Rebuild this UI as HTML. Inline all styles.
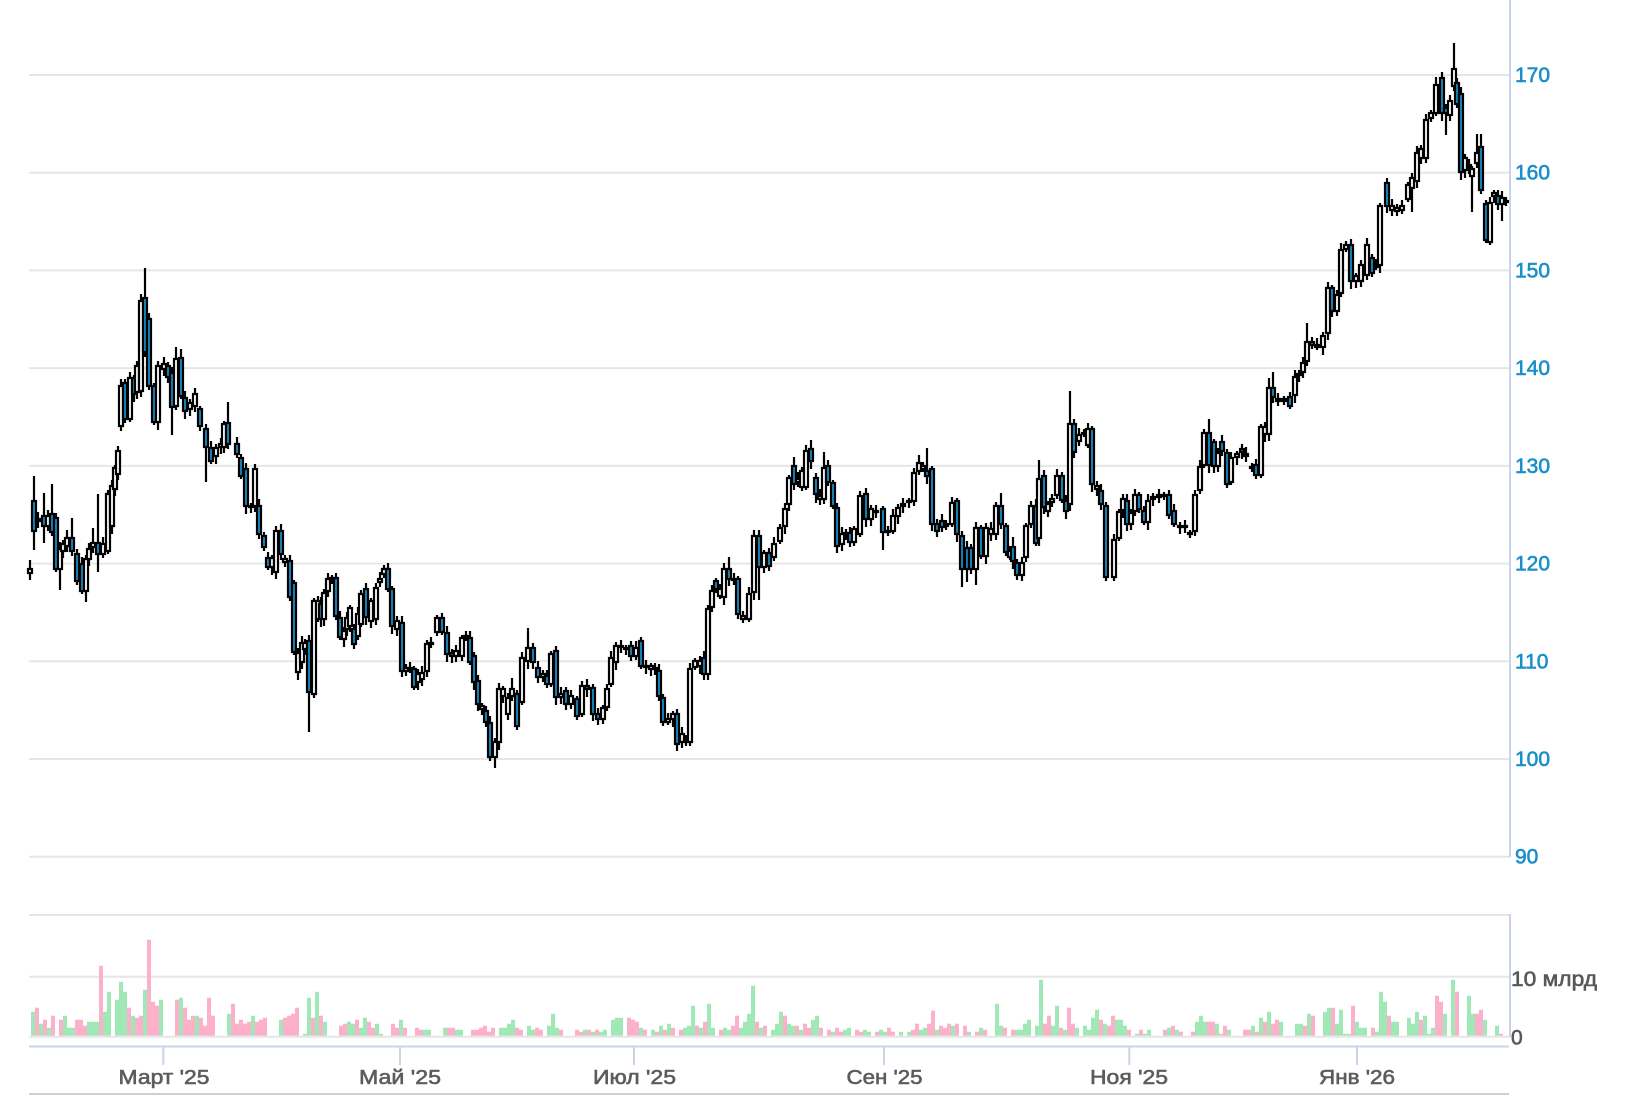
<!DOCTYPE html>
<html><head><meta charset="utf-8">
<style>
html,body{margin:0;padding:0;background:#fff;}
svg{display:block;}
text{font-family:"Liberation Sans",Arial,sans-serif;}
</style></head>
<body>
<svg id="c" width="1628" height="1095" viewBox="0 0 1628 1095" xmlns="http://www.w3.org/2000/svg">
<rect x="0" y="0" width="1628" height="1095" fill="#fff"/>
<g stroke="#e6e6e6" stroke-width="2">
<line x1="29" y1="75" x2="1509" y2="75"/>
<line x1="29" y1="172.7" x2="1509" y2="172.7"/>
<line x1="29" y1="270.4" x2="1509" y2="270.4"/>
<line x1="29" y1="368.1" x2="1509" y2="368.1"/>
<line x1="29" y1="465.9" x2="1509" y2="465.9"/>
<line x1="29" y1="563.6" x2="1509" y2="563.6"/>
<line x1="29" y1="661.3" x2="1509" y2="661.3"/>
<line x1="29" y1="759" x2="1509" y2="759"/>
<line x1="29" y1="856.7" x2="1509" y2="856.7"/>
<line x1="29" y1="915" x2="1509" y2="915"/>
<line x1="29" y1="976.7" x2="1509" y2="976.7"/>
</g>
<g id="vol"></g>
<line x1="29" y1="1036.8" x2="1509" y2="1036.8" stroke="#e6e6e6" stroke-width="2"/>
<g id="cand"></g>
<g stroke="#c9d4e8" stroke-width="2">
<line x1="1510" y1="0" x2="1510" y2="857"/>
<line x1="1510" y1="914" x2="1510" y2="1037"/>
<line x1="29" y1="1046.5" x2="1509" y2="1046.5"/>
<line x1="163.3" y1="1046" x2="163.3" y2="1065"/>
<line x1="400" y1="1046" x2="400" y2="1065"/>
<line x1="634" y1="1046" x2="634" y2="1065"/>
<line x1="884" y1="1046" x2="884" y2="1065"/>
<line x1="1129.3" y1="1046" x2="1129.3" y2="1065"/>
<line x1="1357" y1="1046" x2="1357" y2="1065"/>
</g>
<line x1="29" y1="1094" x2="1509" y2="1094" stroke="#cfcfcf" stroke-width="2"/>
<g fill="#1a8fc8" stroke="#1a8fc8" stroke-width="0.6" font-size="21">
<text x="1515" y="82">170</text>
<text x="1515" y="179.7">160</text>
<text x="1515" y="277.4">150</text>
<text x="1515" y="375.1">140</text>
<text x="1515" y="472.9">130</text>
<text x="1515" y="570.6">120</text>
<text x="1515" y="668.3">110</text>
<text x="1515" y="766">100</text>
<text x="1515" y="863.7">90</text>
</g>
<g fill="#585858" stroke="#585858" stroke-width="0.6" font-size="21">
<text x="1511" y="986" textLength="86" lengthAdjust="spacingAndGlyphs">10 млрд</text>
<text x="1511" y="1044.5">0</text>
</g>
<g fill="#5c5c5c" stroke="#5c5c5c" stroke-width="0.6" font-size="20" text-anchor="middle">
<text x="164" y="1084" textLength="91" lengthAdjust="spacingAndGlyphs">Март '25</text>
<text x="400" y="1084" textLength="82" lengthAdjust="spacingAndGlyphs">Май '25</text>
<text x="634.5" y="1084" textLength="83" lengthAdjust="spacingAndGlyphs">Июл '25</text>
<text x="884.5" y="1084" textLength="76" lengthAdjust="spacingAndGlyphs">Сен '25</text>
<text x="1129" y="1084" textLength="78" lengthAdjust="spacingAndGlyphs">Ноя '25</text>
<text x="1357" y="1084" textLength="76" lengthAdjust="spacingAndGlyphs">Янв '26</text>
</g>
</svg>
<script>
var C=[
[30,568,574,0,560,580],[34,500,532,1,476,550],[38,518,522,0],[44,515,527,1,493,543],[48,515,527,0],[52,513,533,1,484],[56,517,570,1],[60,548,570,0,0,590],[63,543,552,0],[67,537,547,0,530],[72,537,552,1,518],[77,553,582,1],[82,563,592,1],[86,558,592,0,0,602],[89,548,560,0],[93,542,548,0,528],[98,542,555,1,494,572],[103,543,555,0],[108,493,552,0],[112,485,527,0],[115,467,490,0],[118,450,475,0],[121,385,427,0],[125,382,420,1],[130,377,420,0],[134,377,395,1],[137,365,393,0],[141,300,392,0],[145,297,353,1,268],[149,318,387,1],[154,385,423,1],[158,365,423,0],[164,363,370,0],[168,365,378,1],[172,372,408,1,0,435],[176,358,407,0,347],[181,357,397,1,349],[185,397,412,1],[190,402,410,0],[195,393,407,0],[200,408,427,1],[206,428,448,1,0,482],[211,447,462,1],[216,447,457,0],[221,443,448,0],[224,423,448,0],[228,422,445,1,402],[237,443,455,1],[241,457,477,1],[246,468,507,1],[251,505,507,0],[255,468,507,0],[259,505,535,1],[264,535,548,1],[268,557,568,1],[272,557,568,0],[276,530,573,0],[281,530,555,1],[285,558,563,0],[290,560,598,1],[294,582,653,1],[298,652,673,0],[302,642,663,0],[305,642,650,0],[309,640,693,1,0,732],[314,600,695,0],[318,600,620,0],[321,603,620,1],[324,592,620,0],[328,578,592,0],[332,577,580,0],[336,577,617,1],[340,617,638,1],[344,630,640,0],[347,617,630,0],[350,607,627,0],[354,628,645,1],[358,613,637,0],[361,593,625,0],[366,588,618,1],[371,600,622,0],[376,587,620,0],[380,578,583,0],[384,568,575,0],[388,568,590,1],[392,588,627,1],[397,620,630,0],[402,622,672,1],[406,667,672,0],[410,667,670,0],[414,668,688,1],[418,673,683,0],[422,672,680,0],[427,643,672,0],[431,642,644,0],[437,617,633,0],[442,617,633,1],[447,632,655,1],[452,652,657,1],[456,650,657,0],[462,637,657,0],[466,635,638,0],[470,637,663,1],[474,655,683,1],[478,680,705,1],[482,705,710,0],[486,710,723,1],[490,722,758,1],[495,741,758,0,0,768],[499,688,743,0],[503,688,697,0],[508,697,715,0],[512,688,697,0,678],[517,693,727,1],[522,657,703,0],
[528,647,662,0,628],[533,647,663,1],[538,667,678,1],[543,673,678,0],[547,675,685,1],[551,653,685,0],[556,650,698,1],[561,693,698,0],[566,690,705,1],[571,695,705,0],[577,698,717,1],[582,685,715,0],[587,685,690,1],[593,687,715,1],[598,713,720,1],[603,707,720,0],[607,688,708,0],[611,657,685,0],[616,645,663,0],[621,645,647,0],[626,647,650,0],[631,645,657,1],[636,647,657,0],[641,640,667,1],[646,665,667,0],[651,665,670,0],[655,667,670,1],[659,670,697,1],[663,697,723,1],[668,718,723,0],[673,713,720,0],[677,713,745,1],[682,733,743,0],[686,738,742,1],[690,668,743,0],[695,660,668,0],[700,660,667,0],[704,657,675,1,0,680],[708,608,675,0],[712,590,608,0],[716,580,590,1],[720,588,597,0],[724,568,598,0,563],[729,568,580,1,557],[734,578,580,0],[738,578,615,1],[743,615,620,0],[749,593,620,0],[754,535,593,0,530],[759,535,568,1,0,600],[764,552,568,0],[769,552,567,1],[774,543,558,0],[780,527,542,0],[785,508,527,0],[789,477,505,0],[794,465,485,1,457],[798,478,483,0],[802,470,488,0],[806,450,488,0],[811,448,462,1,440],[816,477,495,1,0,503],[820,495,500,0],[824,467,500,0,452],[828,465,483,1],[833,482,507,1],[837,507,547,1,0,553],[842,533,545,0],[846,532,535,0],[850,532,543,1],[854,528,543,0],[860,495,535,0],[866,493,520,1,488],[871,508,520,0],[876,510,513,0],[883,508,533,1,0,550],[888,530,533,0],[893,515,532,0],[898,507,517,0],[903,503,507,0],[909,500,503,0],[914,472,502,0],[919,462,472,0,455],[923,465,470,0],[927,470,477,1,448],[932,468,525,1],[937,523,532,1],[942,520,528,1],[946,523,527,0],[952,502,525,0],[957,500,535,1],[962,535,570,1,0,587],[967,547,570,1,0,582],[971,547,570,1],[976,527,570,0,0,585],[981,527,557,1],[986,527,557,0],[991,528,535,0],[996,505,535,0],[1001,505,525,1,493],[1006,525,553,1],[1010,550,558,0],
[1013,546,562,1,537],[1017,562,576,1,0,580],[1022,562,576,0],[1026,525,558,0],[1031,505,525,0],[1036,505,544,1],[1039,478,539,0,460],[1044,475,508,1],[1048,503,512,0],[1052,498,503,0],[1057,475,496,0],[1062,475,501,1],[1066,500,512,1],[1070,423,505,0,391],[1074,423,453,1],[1079,434,442,0],[1084,432,434,0],[1088,428,446,0],[1092,428,485,1],[1097,485,490,0],[1101,490,505,1],[1106,505,578,1,0,581],[1114,539,578,0],[1119,511,539,0],[1123,498,511,0],[1127,500,525,1],[1131,512,525,0],[1135,494,512,0],[1139,494,510,1],[1144,510,523,1],[1148,500,523,0],[1153,496,500,0],[1159,494,498,0],[1164,494,496,0],[1169,494,516,1],[1174,510,525,1],[1180,525,527,0],[1185,525,527,0],[1190,532,533,0],[1195,494,532,0],[1200,466,491,0],[1204,432,466,0],[1209,432,466,1,419],[1214,441,467,1],[1218,452,467,0],[1222,441,452,1],[1227,452,485,1],[1231,457,483,0],[1237,453,458,0],[1242,448,453,1],[1246,453,457,0],[1252,466,468,0],[1256,464,476,1],[1261,426,476,0],[1265,426,435,0],[1269,387,435,0,378],[1273,387,398,1,372],[1278,398,402,0],[1284,398,402,0],[1290,396,407,1],[1295,376,396,0],[1299,373,376,0],[1303,362,373,0],[1307,341,362,0,323],[1312,341,346,1],[1317,344,348,0],[1323,335,348,0],[1328,287,334,0],[1332,287,312,1],[1337,294,312,0],[1341,249,294,0],[1346,244,250,0],[1351,244,282,1,239],[1356,275,282,0],[1361,264,282,0],[1367,244,276,0],[1372,257,274,1],[1376,264,268,0],[1380,205,266,0],[1387,182,207,1],[1392,205,211,0],[1397,207,212,0],[1402,205,211,0],[1408,184,200,0],[1412,177,189,0,0,212],[1417,152,182,0],[1421,148,159,0],[1426,119,159,0],[1431,112,119,0],[1436,84,114,0,77],[1442,77,114,1,72],[1446,107,114,1,0,135],[1450,100,116,0],[1454,68,87,0,43],[1457,82,105,1],[1461,93,173,1,0,180],[1465,157,171,0],[1469,164,168,0],[1472,168,177,0,0,212],[1477,152,164,0,134],[1481,146,191,1,134],[1486,203,241,1],[1490,202,243,0,0,245],[1494,192,197,0],[1498,195,205,1,190],[1502,197,205,0,0,221],[1506,200,203,0]
];
var V=[
[31,24,1],[35,28,0],[39,12,1],[43,16,0],[47,8,1],[51,20,0],[57,16,0],[61,20,1],[65,8,1],[69,8,1],[73,16,0],[77,16,0],[81,10,0],[87,14,1],[91,14,1],[95,14,1],[99,70,0],[103,24,1],[107,44,1],[113,36,1],[117,54,1],[121,44,1],[125,28,0],[129,20,1],[133,18,0],[137,20,0],[143,46,1],[147,96,0],[151,34,0],[155,30,0],[159,36,1],[173,36,0],[177,38,1],[181,28,0],[185,16,0],[189,20,0],[195,20,1],[199,18,0],[203,10,0],[207,38,0],[211,20,0],[225,22,1],[229,32,0],[233,12,0],[237,16,0],[241,12,0],[245,14,0],[251,20,1],[255,14,0],[259,16,0],[263,18,0],[277,16,1],[281,18,0],[285,20,0],[289,22,0],[293,28,0],[301,2,1],[307,38,1],[311,18,0],[315,44,1],[319,20,0],[323,14,1],[337,10,0],[341,12,0],[345,14,1],[349,12,1],[353,16,0],[359,8,1],[363,18,1],[367,14,0],[371,8,0],[375,12,1],[379,2,1],[389,12,0],[393,8,0],[397,16,1],[401,8,0],[415,8,0],[419,6,0],[423,6,1],[427,6,1],[441,8,1],[445,8,0],[449,8,0],[453,6,1],[457,6,1],[471,6,0],[475,6,0],[479,8,0],[483,10,0],[487,4,0],[491,8,0],[497,8,1],
[503,8,1],[507,12,1],[511,16,1],[515,8,0],[519,6,0],[527,10,1],[531,6,1],[535,8,0],[539,6,0],[547,10,1],[551,22,1],[555,8,1],[559,6,0],[575,6,0],[579,4,0],[583,6,1],[587,6,0],[591,4,1],[595,6,0],[599,4,1],[603,6,1],[611,16,1],[615,18,1],[619,18,1],[627,18,0],[631,16,0],[635,14,0],[639,8,1],[643,6,0],[651,6,1],[655,4,0],[659,10,1],[663,6,0],[667,12,1],[671,8,0],[679,6,0],[683,8,1],[687,10,1],[691,30,1],[695,10,0],[699,8,1],[703,14,0],[707,32,1],[711,8,1],[719,6,0],[723,8,1],[727,6,1],[731,10,0],[735,20,0],[739,8,1],[743,14,1],[747,22,1],[751,50,1],[755,14,0],[759,8,1],[763,10,0],[771,6,1],[775,12,1],[779,24,1],[783,20,0],[787,12,1],[791,10,1],[795,10,0],[799,6,1],[803,12,0],[807,8,0],[811,16,1],[815,20,1],[819,8,0],[827,6,0],[831,4,1],[835,8,0],[839,4,0],[843,6,1],[847,8,1],[855,6,0],[859,4,0],[863,6,1],[867,4,1],[875,4,0],[879,6,1],[883,4,1],[887,8,0],[891,4,0],[899,4,1],[907,4,1],[911,6,0],[915,12,0],[919,6,1],[923,8,1],[927,12,0],[931,25,0],[935,6,1],[939,10,0],[943,8,0],[947,12,0],[951,10,1],[955,12,0],[963,10,0],[967,4,1],[975,4,0],[979,8,1],[983,6,0],[995,32,1],[999,10,1],[1003,8,0],[1011,6,0],[1015,6,1],[1019,6,1],[1023,12,1],[1027,16,1],[1035,10,1],[1039,56,1],[1043,12,0],[1047,20,0],[1051,10,1],[1055,30,1],[1059,8,0],[1063,6,1],[1067,28,0],[1071,12,0],[1075,8,1],[1083,10,1],[1087,6,1],[1091,18,1],[1095,26,1],[1099,16,0],
[1103,12,1],[1107,10,0],[1111,20,0],[1115,16,1],[1119,16,1],[1123,10,1],[1127,6,0],[1135,2,1],[1139,6,0],[1143,2,1],[1147,6,1],[1161,6,0],[1165,8,1],[1169,10,0],[1173,6,1],[1177,4,0],[1191,4,0],[1195,14,1],[1199,20,1],[1203,14,1],[1207,14,0],[1211,14,0],[1215,12,1],[1219,2,0],[1223,10,0],[1227,6,1],[1243,6,0],[1247,6,0],[1251,10,1],[1255,4,0],[1259,18,1],[1263,14,0],[1267,24,1],[1271,12,0],[1275,16,0],[1279,14,1],[1295,12,1],[1299,12,1],[1303,10,0],[1307,22,1],[1311,20,0],[1323,24,1],[1327,28,1],[1331,28,0],[1335,12,1],[1339,26,1],[1343,2,1],[1347,2,1],[1351,30,0],[1355,14,1],[1359,8,1],[1363,8,1],[1371,8,0],[1375,4,1],[1379,44,1],[1383,34,1],[1387,20,0],[1391,14,1],[1395,14,1],[1407,18,1],[1411,12,1],[1415,24,1],[1419,16,0],[1423,20,1],[1427,2,1],[1431,8,1],[1435,40,0],[1439,34,0],[1443,22,1],[1451,56,1],[1455,44,0],[1467,40,1],[1471,22,1],[1475,22,0],[1479,26,0],[1483,16,1],[1495,10,1],[1499,2,0]
];
(function(){
  var g1='',g0='';
  for(var i=0;i<V.length;i++){
    var x=31+4*Math.round((V[i][0]-31)/4), h=V[i][1];
    var s='M'+x+' 1035.8h4v-'+h+'h-4z';
    if(V[i][2]) g1+=s; else g0+=s;
  }
  document.getElementById('vol').innerHTML='<path d="'+g1+'" fill="#a0e9b7"/><path d="'+g0+'" fill="#fdb0c9"/>';
  var out='';
  for(var j=0;j<C.length;j++){
    var c=C[j],cx=c[0],t=c[1],b=c[2],bl=c[3];
    var hi=(c[4]&&c[4]>0)?c[4]:t-(2+((j*7)%5));
    var lo=(c[5]&&c[5]>0)?c[5]:b+(2+((j*11)%6));
    out+='<line x1="'+cx+'" y1="'+hi+'" x2="'+cx+'" y2="'+lo+'" stroke="#000" stroke-width="2.2"/>';
    var h=b-t-2; if(h<1)h=1;
    out+='<rect x="'+(cx-2)+'" y="'+(t+1)+'" width="4" height="'+h+'" fill="'+(bl?'#168bc6':'#fff')+'" stroke="#000" stroke-width="2.2"/>';
  }
  document.getElementById('cand').innerHTML=out;
})();
</script>
</body></html>
